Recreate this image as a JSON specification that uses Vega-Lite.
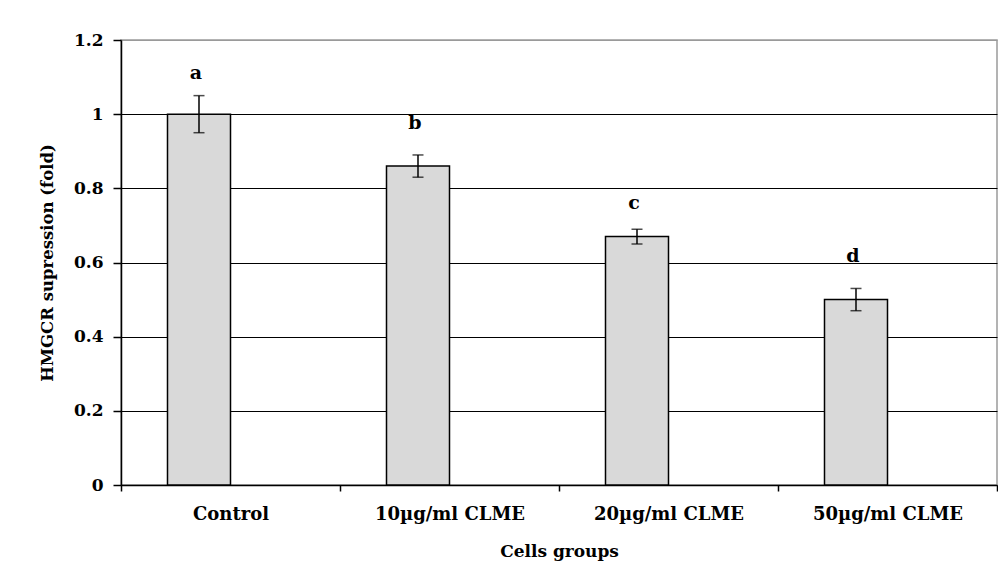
{
  "$schema": "https://vega.github.io/schema/vega-lite/v6.json",
  "width": 876,
  "height": 445,
  "autosize": {"type": "none"},
  "padding": {"left": 121, "top": 40, "right": 1, "bottom": 88},
  "background": "white",
  "config": {
    "view": {"stroke": "#9a9a9a", "strokeWidth": 1.5},
    "font": "DejaVu Serif"
  },
  "data": {
    "values": [
      {"group": "Control", "series": "A", "value": 1.0, "lo": 0.95, "hi": 1.05, "letter": "a", "ly": 1.11},
      {"group": "10µg/ml CLME", "series": "A", "value": 0.86, "lo": 0.83, "hi": 0.89, "letter": "b", "ly": 0.976},
      {"group": "20µg/ml CLME", "series": "A", "value": 0.67, "lo": 0.65, "hi": 0.69, "letter": "c", "ly": 0.76},
      {"group": "50µg/ml CLME", "series": "A", "value": 0.5, "lo": 0.47, "hi": 0.53, "letter": "d", "ly": 0.617}
    ]
  },
  "encoding": {
    "x": {
      "field": "group",
      "type": "nominal",
      "sort": null,
      "scale": {"paddingInner": 0, "paddingOuter": 0},
      "axis": {
        "title": "Cells groups",
        "labelAngle": 0,
        "tickBand": "extent",
        "tickSize": 6,
        "tickWidth": 1.5,
        "tickColor": "black",
        "domainColor": "black",
        "domainWidth": 1.5,
        "grid": false,
        "labelFont": "DejaVu Serif",
        "labelFontWeight": "bold",
        "labelFontSize": 18,
        "labelColor": "black",
        "labelPadding": 14,
        "titleFont": "DejaVu Serif",
        "titleFontWeight": "bold",
        "titleFontSize": 17,
        "titleColor": "black",
        "titlePadding": 20
      }
    },
    "xOffset": {
      "field": "series",
      "type": "nominal",
      "scale": {"domain": ["A", "B"], "paddingInner": 0, "paddingOuter": 0.738}
    }
  },
  "layer": [
    {
      "mark": {"type": "bar", "fill": "#d9d9d9", "stroke": "black", "strokeWidth": 1.5},
      "encoding": {
        "y": {
          "field": "value",
          "type": "quantitative",
          "scale": {"domain": [0, 1.2], "nice": false},
          "axis": {
            "title": "HMGCR supression (fold)",
            "values": [0, 0.2, 0.4, 0.6, 0.8, 1, 1.2],
            "format": "~g",
            "grid": true,
            "gridColor": {"condition": {"test": "datum.value == 1.2", "value": "#9a9a9a"}, "value": "black"},
            "gridWidth": 1.2,
            "domainColor": "black",
            "domainWidth": 1.5,
            "tickColor": "black",
            "tickSize": 8,
            "tickWidth": 1.5,
            "labelFont": "DejaVu Serif",
            "labelFontWeight": "bold",
            "labelFontSize": 17,
            "labelColor": "black",
            "labelPadding": 10,
            "titleFont": "DejaVu Serif",
            "titleFontWeight": "bold",
            "titleFontSize": 16.5,
            "titleColor": "black",
            "titlePadding": 18
          }
        }
      }
    },
    {
      "mark": {"type": "rule", "color": "black", "strokeWidth": 1.5},
      "encoding": {
        "y": {"field": "lo", "type": "quantitative"},
        "y2": {"field": "hi"}
      }
    },
    {
      "mark": {"type": "tick", "color": "black", "size": 11, "thickness": 1.5},
      "encoding": {"y": {"field": "hi", "type": "quantitative"}}
    },
    {
      "mark": {"type": "tick", "color": "black", "size": 11, "thickness": 1.5},
      "encoding": {"y": {"field": "lo", "type": "quantitative"}}
    },
    {
      "mark": {"type": "text", "fontWeight": "bold", "fontSize": 19, "font": "DejaVu Serif", "color": "black", "baseline": "middle", "dx": -3},
      "encoding": {
        "y": {"field": "ly", "type": "quantitative"},
        "text": {"field": "letter"}
      }
    }
  ]
}
